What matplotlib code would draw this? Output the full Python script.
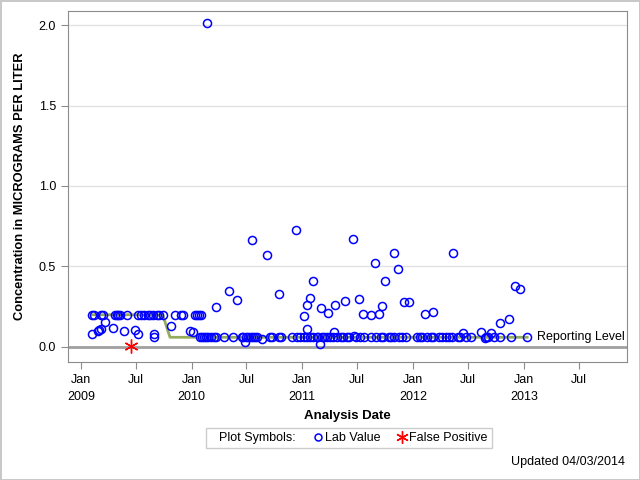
import matplotlib
matplotlib.use("Agg")
import matplotlib.pyplot as plt
from matplotlib.lines import Line2D
import numpy as np

plt.rcParams['font.family'] = ['Liberation Sans', 'DejaVu Sans']

# lab values (elevated / scattered)
lab_dates = [
    '2009-02-06', '2009-02-13', '2009-03-08', '2009-03-15', '2009-04-23', '2009-04-29',
    '2009-05-04', '2009-05-11', '2009-06-02', '2009-07-10', '2009-07-18', '2009-07-29',
    '2009-08-11', '2009-08-18', '2009-08-26', '2009-09-09', '2009-09-16', '2009-09-28',
    '2009-11-08', '2009-11-27', '2009-12-05', '2010-01-13', '2010-01-20', '2010-01-26',
    '2010-02-01',
    '2009-03-22', '2009-02-07', '2009-02-26', '2009-03-02', '2009-03-07', '2009-04-16',
    '2009-05-24', '2009-06-29', '2009-07-10', '2009-08-30', '2009-08-30', '2009-10-26',
    '2009-12-28', '2010-01-05',
    '2010-02-21', '2010-03-23', '2010-05-04', '2010-05-31', '2010-06-25', '2010-07-19',
    '2010-08-23', '2010-09-07', '2010-10-16', '2010-12-12', '2011-01-07', '2011-01-17',
    '2011-01-17', '2011-01-27', '2011-02-06', '2011-02-28', '2011-03-05', '2011-03-27',
    '2011-04-15', '2011-04-19', '2011-05-22', '2011-06-18', '2011-06-22', '2011-07-07',
    '2011-07-19', '2011-08-16', '2011-08-29', '2011-09-11', '2011-09-21', '2011-10-02',
    '2011-10-31', '2011-11-13', '2011-12-03', '2011-12-19', '2012-02-09', '2012-03-08',
    '2012-05-13', '2012-06-15', '2012-08-13', '2012-08-26', '2012-09-15', '2012-10-15',
    '2012-11-13', '2012-12-03', '2012-12-20',
]
lab_vals = [
    0.2, 0.2, 0.2, 0.2, 0.2, 0.2,
    0.2, 0.2, 0.2, 0.2, 0.2, 0.2,
    0.2, 0.2, 0.2, 0.2, 0.2, 0.2,
    0.2, 0.2, 0.2, 0.2, 0.2, 0.2,
    0.2,
    0.152, 0.078, 0.10, 0.105, 0.113, 0.12,
    0.097, 0.107, 0.078, 0.08, 0.063, 0.13,
    0.10, 0.094,
    2.01, 0.248, 0.35, 0.293, 0.029, 0.663,
    0.049, 0.57, 0.33, 0.724, 0.193, 0.258,
    0.11, 0.305, 0.41, 0.018, 0.244, 0.213,
    0.09, 0.263, 0.288, 0.669, 0.07, 0.30,
    0.203, 0.197, 0.521, 0.207, 0.256, 0.41,
    0.583, 0.484, 0.281, 0.281, 0.203, 0.215,
    0.583, 0.086, 0.09, 0.058, 0.084, 0.146,
    0.172, 0.38, 0.36,
]

# lab values at the 0.06 reporting level
rl_dates = [
    '2010-01-30', '2010-02-03', '2010-02-11', '2010-02-17', '2010-02-25', '2010-03-06',
    '2010-03-16', '2010-03-22', '2010-04-18', '2010-05-18', '2010-06-15', '2010-06-20',
    '2010-06-28', '2010-07-07', '2010-07-15', '2010-07-23', '2010-07-29', '2010-08-06',
    '2010-09-17', '2010-09-22', '2010-10-17', '2010-10-22', '2010-11-30', '2010-12-16',
    '2010-12-25', '2011-01-07', '2011-01-16', '2011-01-27', '2011-02-07', '2011-02-18',
    '2011-02-23', '2011-03-06', '2011-03-14', '2011-03-23', '2011-04-03', '2011-04-13',
    '2011-04-25', '2011-05-08', '2011-05-17', '2011-05-28', '2011-06-04', '2011-06-26',
    '2011-07-11', '2011-07-24', '2011-08-17', '2011-08-31', '2011-09-17', '2011-09-25',
    '2011-10-14', '2011-10-22', '2011-10-31', '2011-11-16', '2011-11-27', '2011-12-08',
    '2012-01-16', '2012-01-25', '2012-02-01', '2012-02-18', '2012-02-29', '2012-03-09',
    '2012-03-27', '2012-04-07', '2012-04-19', '2012-04-29', '2012-05-10', '2012-05-29',
    '2012-06-05', '2012-06-24', '2012-07-11', '2012-08-28', '2012-09-06', '2012-09-26',
    '2012-10-15', '2012-11-19', '2013-01-12',
]
rl_vals = [0.06] * len(rl_dates)

fp_dates = ['2009-06-16']
fp_vals = [0.005]

report_dates = ['2009-02-06', '2009-09-28', '2009-10-22', '2013-01-12']
report_vals = [0.2, 0.2, 0.06, 0.06]

lab_d = np.array(lab_dates + rl_dates, dtype='datetime64[D]')
lab_v = np.array(lab_vals + rl_vals)
fp_d = np.array(fp_dates, dtype='datetime64[D]')
rep_d = np.array(report_dates, dtype='datetime64[D]')

fig = plt.figure(figsize=(6.4, 4.8), dpi=100)
ax = fig.add_axes([0.106, 0.246, 0.874, 0.731])

ax.axhline(0, color='#a0a0a0', lw=2, zorder=1)
ax.plot(rep_d, report_vals, color='#94ac5c', lw=2, zorder=2)
ax.plot(lab_d, lab_v, linestyle='none', marker='o', ms=5.8, mfc='none',
        mec='#0000ff', mew=1.1, zorder=3)
ax.plot(fp_d, fp_vals, linestyle='none', marker=(6, 2, 0), ms=10,
        mec='#ff0000', mew=1, zorder=4)
ax.annotate('Reporting Level', xy=(rep_d[-1], report_vals[-1]), xytext=(7, 0),
            textcoords='offset points', va='center', ha='left', fontsize=9)

ax.set_xlim(np.datetime64('2008-11-19'), np.datetime64('2013-12-08'))
ax.set_ylim(-0.093, 2.087)
ax.set_yticks([0, 0.5, 1.0, 1.5, 2.0])
ax.set_yticklabels(['0.0', '0.5', '1.0', '1.5', '2.0'])
ax.yaxis.grid(True, color='#e2e2e2', lw=1)
ax.set_axisbelow(True)

xt = np.array(['2009-01-01', '2009-07-01', '2010-01-01', '2010-07-01', '2011-01-01',
               '2011-07-01', '2012-01-01', '2012-07-01', '2013-01-01', '2013-07-01'],
              dtype='datetime64[D]')
ax.set_xticks(xt)
ax.set_xticklabels(['Jan\n2009', 'Jul', 'Jan\n2010', 'Jul', 'Jan\n2011', 'Jul',
                    'Jan\n2012', 'Jul', 'Jan\n2013', 'Jul'], linespacing=1.5, va='top')

for s in ax.spines.values():
    s.set_color('#8c8c8c')
ax.tick_params(colors='#8c8c8c', labelcolor='black', labelsize=9, length=5)
ax.tick_params(axis='x', pad=4)

ax.set_xlabel('Analysis Date', fontsize=9.5, fontweight='bold', labelpad=5)
ax.set_ylabel('Concentration in MICROGRAMS PER LITER', fontsize=9.3, fontweight='bold',
              labelpad=9)

handles = [Line2D([], [], linestyle='none'),
           Line2D([], [], linestyle='none', marker='o', ms=5, mfc='none', mec='#0000ff', mew=1.1),
           Line2D([], [], linestyle='none', marker=(6, 2, 0), ms=9, mec='#ff0000', mew=1)]
leg = fig.legend(handles, ['Plot Symbols:', 'Lab Value', 'False Positive'], ncol=3,
                 loc='center', bbox_to_anchor=(0.545, 0.0875), frameon=True, fancybox=False,
                 edgecolor='#c0c0c0', fontsize=9, handlelength=0.3, handletextpad=0.4,
                 columnspacing=1.6, borderpad=0.35)
leg.get_frame().set_linewidth(1)

fig.text(0.977, 0.037, 'Updated 04/03/2014', ha='right', va='center', fontsize=9)

fig.patch.set_edgecolor('#c8c8c8')
fig.patch.set_linewidth(2)
fig.savefig('out.png', dpi=100, edgecolor=fig.get_edgecolor())
